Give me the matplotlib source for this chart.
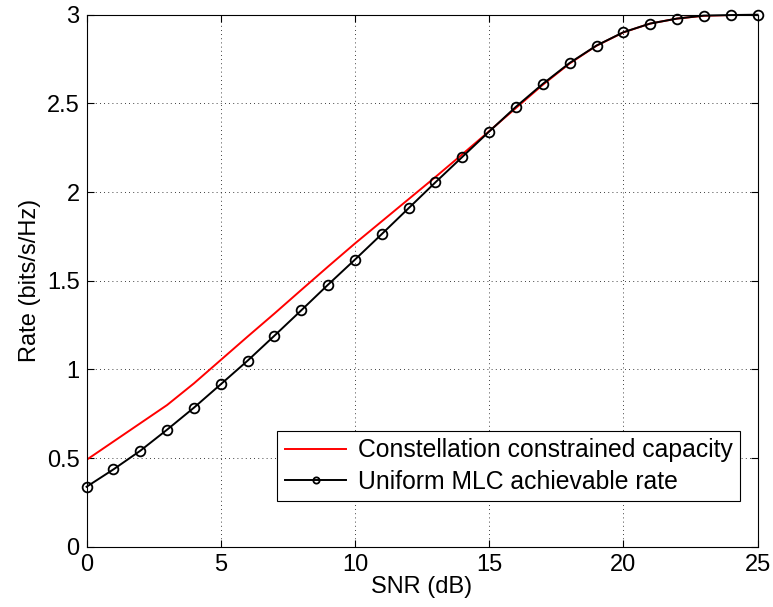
import matplotlib
matplotlib.use('Agg')
import matplotlib.pyplot as plt

plt.rcParams['font.family'] = ['Liberation Sans', 'DejaVu Sans']

snr_db = list(range(0, 26))

capacity = [0.49, 0.593, 0.696, 0.799, 0.921, 1.053, 1.185, 1.315, 1.448, 1.58,
            1.71, 1.835, 1.96, 2.085, 2.213, 2.343, 2.474, 2.605, 2.725, 2.825,
            2.90, 2.95, 2.978, 2.994, 2.998, 3.0]

mlc_rate = [0.338, 0.436, 0.541, 0.660, 0.784, 0.916, 1.049, 1.190, 1.333, 1.478,
            1.619, 1.763, 1.909, 2.055, 2.198, 2.341, 2.481, 2.61, 2.728, 2.826,
            2.901, 2.950, 2.978, 2.995, 2.998, 3.0]

fs = 17

fig = plt.figure(figsize=(7.73, 6.07), dpi=100)
ax = fig.add_axes([0.112, 0.0993, 0.868, 0.8765])

ax.plot(snr_db, capacity, color='red', lw=1.4, label='Constellation constrained capacity')
ax.plot(snr_db, mlc_rate, color='black', lw=1.4, marker='o', ms=7, mfc='none',
        mec='black', mew=1.3, clip_on=False, label='Uniform MLC achievable rate')

ax.set_xlim(0, 25)
ax.set_ylim(0, 3)
ax.set_xticks([0, 5, 10, 15, 20, 25])
ax.set_yticks([0, 0.5, 1, 1.5, 2, 2.5, 3])
ax.set_yticklabels(['0', '0.5', '1', '1.5', '2', '2.5', '3'])
ax.tick_params(direction='in', top=True, right=True, labelsize=fs, length=5, pad=5)
ax.grid(True, color='black', linestyle=(0, (1, 4)), lw=0.6)
for s in ax.spines.values():
    s.set_linewidth(0.8)

ax.set_xlabel('SNR (dB)', fontsize=fs, labelpad=0)
ax.set_ylabel('Rate (bits/s/Hz)', fontsize=fs, labelpad=4)

leg = ax.legend(loc='lower right', bbox_to_anchor=(0.9736, 0.0859), fontsize=17.8,
                fancybox=False, edgecolor='black', framealpha=1, handlelength=2.5,
                borderpad=0.3, labelspacing=0.3, handletextpad=0.45, borderaxespad=0)
leg.get_frame().set_linewidth(0.8)
leg.legend_handles[1].set_markersize(4.5)

fig.savefig('out.png', dpi=100)
